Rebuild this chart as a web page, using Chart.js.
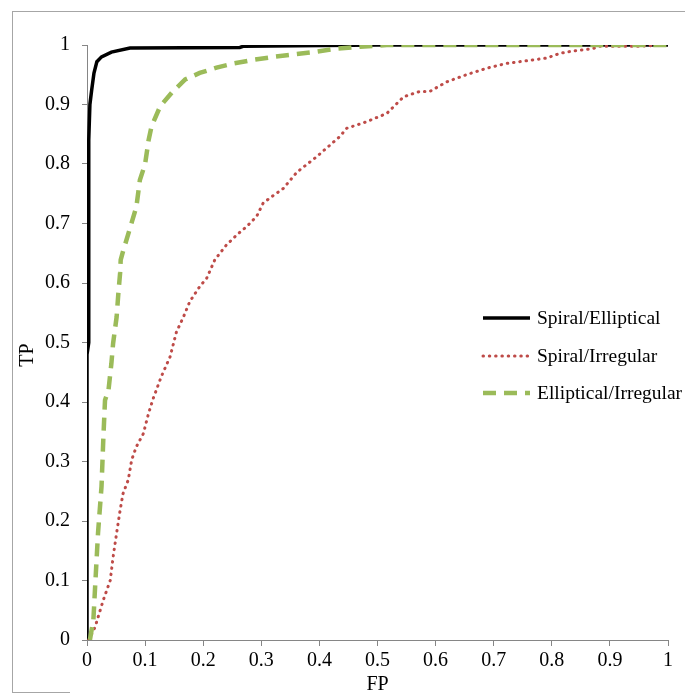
<!DOCTYPE html>
<html>
<head>
<meta charset="utf-8">
<script src="https://cdn.jsdelivr.net/npm/chart.js@4.4.1/dist/chart.umd.min.js"></script>
<style>
  html, body { margin: 0; padding: 0; background: #fff; }
  #wrap { position: relative; width: 685px; height: 695px; }
  #c { position: absolute; left: 0; top: 0; display: block; }
  .frame { position: absolute; background: #a6a6a6; pointer-events: none; }
</style>
</head>
<body>
<div id="wrap">
  <canvas id="c" width="685" height="695"></canvas>
  <div class="frame" style="left:12px; top:11px; width:673px; height:1px;"></div>
  <div class="frame" style="left:12px; top:11px; width:1px; height:682px;"></div>
  <div class="frame" style="left:12px; top:692px; width:58px; height:1px;"></div>
</div>
<script>
// ---- Data ----
const seriesNames = ['Spiral/Elliptical', 'Spiral/Irregular', 'Elliptical/Irregular'];

const spiralEllipticalFP = [0, 0, 0.003, 0.003, 0.005, 0.008, 0.012, 0.017, 0.025, 0.042, 0.074, 0.263, 0.27, 0.5, 1];
const spiralEllipticalTP = [0, 0.48, 0.5, 0.84, 0.9, 0.924, 0.953, 0.972, 0.98, 0.988, 0.995, 0.996, 0.998, 1, 1];

const spiralIrregularFP = [0.003, 0.014, 0.028, 0.04, 0.045, 0.051, 0.057, 0.062, 0.071, 0.077, 0.085, 0.097, 0.106, 0.114, 0.128, 0.143, 0.154, 0.166, 0.177, 0.194, 0.206, 0.22, 0.24, 0.258, 0.275, 0.292, 0.303, 0.315, 0.338, 0.361, 0.395, 0.435, 0.447, 0.481, 0.516, 0.545, 0.573, 0.59, 0.619, 0.653, 0.688, 0.722, 0.768, 0.791, 0.814, 0.837, 0.871, 0.883, 0.95, 1];
const spiralIrregularTP = [0, 0.022, 0.067, 0.1, 0.14, 0.18, 0.218, 0.246, 0.269, 0.303, 0.325, 0.347, 0.381, 0.406, 0.443, 0.476, 0.518, 0.543, 0.569, 0.594, 0.608, 0.639, 0.664, 0.681, 0.695, 0.712, 0.734, 0.743, 0.759, 0.786, 0.812, 0.846, 0.86, 0.871, 0.885, 0.913, 0.922, 0.922, 0.938, 0.95, 0.961, 0.969, 0.975, 0.978, 0.986, 0.99, 0.994, 0.998, 0.998, 1];

const ellipticalIrregularFP = [0.005, 0.011, 0.014, 0.019, 0.025, 0.028, 0.031, 0.037, 0.042, 0.045, 0.051, 0.054, 0.057, 0.058, 0.062, 0.073, 0.085, 0.091, 0.1, 0.106, 0.111, 0.126, 0.146, 0.169, 0.194, 0.223, 0.252, 0.286, 0.321, 0.355, 0.39, 0.43, 0.47, 0.516, 1];
const ellipticalIrregularTP = [0, 0.034, 0.09, 0.18, 0.258, 0.336, 0.403, 0.42, 0.465, 0.499, 0.543, 0.583, 0.617, 0.639, 0.653, 0.689, 0.728, 0.773, 0.8, 0.84, 0.863, 0.897, 0.92, 0.942, 0.953, 0.962, 0.969, 0.975, 0.98, 0.984, 0.988, 0.994, 0.997, 1, 1];

const xTickValues = [0, 0.1, 0.2, 0.3, 0.4, 0.5, 0.6, 0.7, 0.8, 0.9, 1];
const xTickLabels = ['0', '0.1', '0.2', '0.3', '0.4', '0.5', '0.6', '0.7', '0.8', '0.9', '1'];
const yTickValues = [0, 0.1, 0.2, 0.3, 0.4, 0.5, 0.6, 0.7, 0.8, 0.9, 1];
const yTickLabels = ['0', '0.1', '0.2', '0.3', '0.4', '0.5', '0.6', '0.7', '0.8', '0.9', '1'];

function pts(xs, ys) { return xs.map((x, i) => ({ x: x, y: ys[i] })); }

const FONT = 'Liberation Serif, Times New Roman, serif';
const AXIS_GREY = '#868686';

// legend drawn inside the plot (line samples use each dataset's own style)
const insideLegend = {
  id: 'insideLegend',
  afterDraw(chart) {
    const ctx = chart.ctx;
    const x0 = 483, x1 = 530, tx = 537;
    const ys = [318, 356, 393];
    chart.data.datasets.forEach((ds, i) => {
      ctx.save();
      ctx.beginPath();
      ctx.strokeStyle = ds.borderColor;
      ctx.lineWidth = ds.borderWidth;
      ctx.lineCap = ds.borderCapStyle || 'butt';
      ctx.setLineDash(ds.borderDash || []);
      ctx.moveTo(x0, ys[i]);
      ctx.lineTo(x1, ys[i]);
      ctx.stroke();
      ctx.setLineDash([]);
      ctx.fillStyle = '#000';
      ctx.font = '19.5px ' + FONT;
      ctx.textAlign = 'left';
      ctx.textBaseline = 'middle';
      ctx.fillText(ds.label, tx, ys[i] + 1);
      ctx.restore();
    });
  }
};

new Chart(document.getElementById('c'), {
  type: 'line',
  data: {
    datasets: [
      {
        label: seriesNames[0],
        data: pts(spiralEllipticalFP, spiralEllipticalTP),
        borderColor: '#000000',
        borderWidth: 3.5,
        pointRadius: 0,
        tension: 0,
        fill: false,
        order: 2
      },
      {
        label: seriesNames[1],
        data: pts(spiralIrregularFP, spiralIrregularTP),
        borderColor: '#BE4B48',
        borderWidth: 3,
        borderDash: [0.5, 5.8],
        borderCapStyle: 'round',
        pointRadius: 0,
        tension: 0,
        fill: false,
        order: 1
      },
      {
        label: seriesNames[2],
        data: pts(ellipticalIrregularFP, ellipticalIrregularTP),
        borderColor: '#9BBB59',
        borderWidth: 4.5,
        borderDash: [13, 8],
        pointRadius: 0,
        tension: 0,
        fill: false,
        order: 0
      }
    ]
  },
  options: {
    responsive: false,
    animation: false,
    events: [],
    layout: { padding: { left: 0, top: 45, right: 17, bottom: 0 } },
    plugins: { legend: { display: false }, tooltip: { enabled: false } },
    scales: {
      x: {
        type: 'linear',
        min: 0, max: 1,
        afterFit: (s) => { s.height = 55; },
        afterBuildTicks: (s) => { s.ticks = xTickValues.map(v => ({ value: v })); },
        ticks: {
          autoSkip: false, maxRotation: 0,
          callback: (v, i) => xTickLabels[i],
          color: '#000',
          font: { family: FONT, size: 20 },
          padding: 3
        },
        grid: { drawOnChartArea: false, drawTicks: true, tickLength: 6, color: AXIS_GREY },
        border: { color: AXIS_GREY, width: 1 },
        title: { display: true, text: 'FP', color: '#000', font: { family: FONT, size: 20, lineHeight: 1 }, padding: { top: 0, bottom: 0 } }
      },
      y: {
        type: 'linear',
        min: 0, max: 1,
        afterFit: (s) => { s.width = 87; },
        afterBuildTicks: (s) => { s.ticks = yTickValues.map(v => ({ value: v })); },
        ticks: {
          autoSkip: false,
          callback: (v, i) => yTickLabels[i],
          color: '#000',
          font: { family: FONT, size: 20 },
          padding: 12
        },
        grid: { drawOnChartArea: false, drawTicks: true, tickLength: 5, color: AXIS_GREY },
        border: { color: AXIS_GREY, width: 1 },
        title: { display: true, text: 'TP     ', color: '#000', font: { family: FONT, size: 20, lineHeight: 1 }, padding: { top: 18, bottom: 0 } }
      }
    }
  },
  plugins: [insideLegend]
});
</script>
</body>
</html>
